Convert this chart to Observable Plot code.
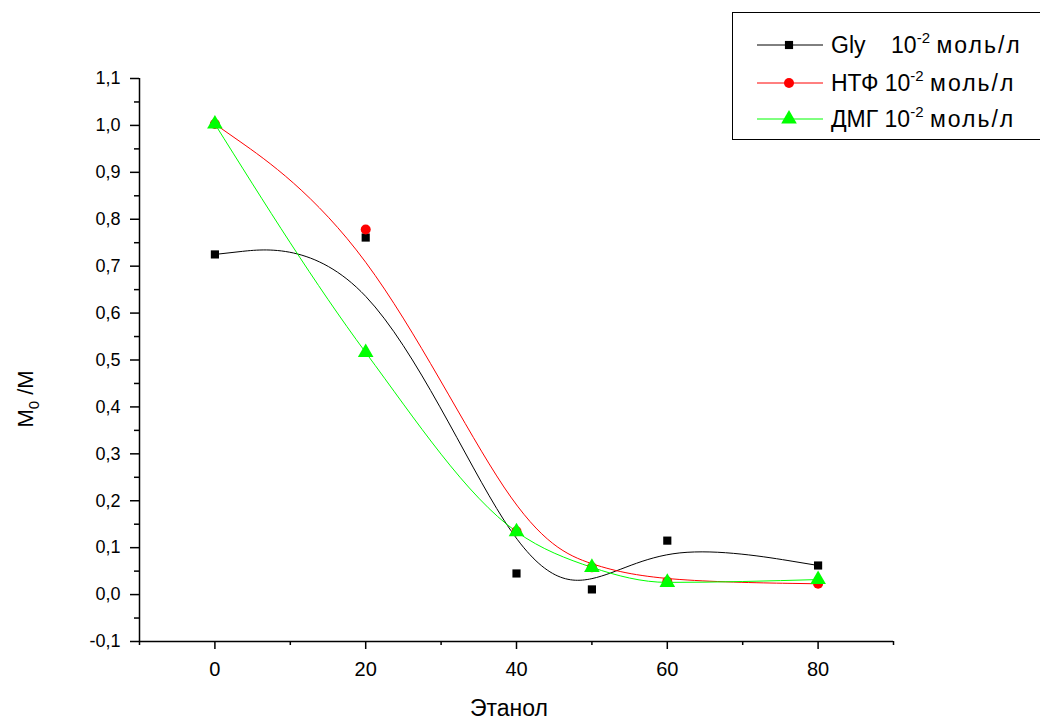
<!DOCTYPE html>
<html>
<head>
<meta charset="utf-8">
<script src="https://cdn.jsdelivr.net/npm/d3@7"></script>
<script src="https://cdn.jsdelivr.net/npm/@observablehq/plot@0.6"></script>
<style>
  html, body { margin: 0; padding: 0; background: #fff; }
  #wrap { position: relative; width: 1040px; height: 722px; overflow: hidden; font-family: "Liberation Sans", Arial, sans-serif; }
  #legend { position: absolute; left: 732px; top: 12px; width: 320px; height: 128px; border: 1px solid #000; background: #fff; box-sizing: border-box; }
  .row { position: absolute; left: 0; height: 30px; display: flex; align-items: center; }
  .row svg { display: block; }
  .lab { font-size: 23px; color: #000; margin-left: 6px; white-space: nowrap; }
  .lab sup { font-size: 15px; vertical-align: 10px; line-height: 0; }
  .unit { letter-spacing: 2px; }
</style>
</head>
<body>
<div id="wrap"></div>
<script>
// Data
const ethanol = [0, 20, 40, 50, 60, 80];
const gly = [0.725, 0.761, 0.045, 0.011, 0.115, 0.062];
const ntf = [1.003, 0.778, 0.135, 0.058, 0.028, 0.023];
const dmg = [1.003, 0.516, 0.134, 0.058, 0.026, 0.032];
const seriesNames = ["Gly", "НТФ", "ДМГ"];
const seriesColors = ["#000000", "#ff0000", "#00ff00"];
const xTicks = [0, 20, 40, 60, 80];
const xMinor = [-10, 10, 30, 50, 70, 90];
const yTicks = [-0.1, 0, 0.1, 0.2, 0.3, 0.4, 0.5, 0.6, 0.7, 0.8, 0.9, 1.0, 1.1];
const yMinor = [-0.05, 0.05, 0.15, 0.25, 0.35, 0.45, 0.55, 0.65, 0.75, 0.85, 0.95, 1.05];

const mk = (ys) => ethanol.map((x, i) => ({x, y: ys[i]}));
const dGly = mk(gly), dNtf = mk(ntf), dDmg = mk(dmg);

const fmt = v => v.toFixed(1).replace(".", ",");

const chart = Plot.plot({
  width: 1040,
  height: 722,
  marginLeft: 139,
  marginRight: 147,
  marginTop: 78,
  marginBottom: 81,
  style: { fontFamily: "'Liberation Sans', Arial, sans-serif", fontSize: "17px", color: "#000", background: "#fff" },
  x: { domain: [-10, 90] },
  y: { domain: [-0.1, 1.1] },
  marks: [
    Plot.axisX({ ticks: xTicks, tickSize: 8, tickPadding: 12, tickFormat: d => String(d), label: null, fontSize: 20, strokeWidth: 1.5 }),
    Plot.axisX({ ticks: xMinor, tickSize: 4, text: null, label: null, strokeWidth: 1.5 }),
    Plot.axisY({ ticks: yTicks, tickSize: 9, tickPadding: 10, tickFormat: fmt, label: null, fontSize: 18, strokeWidth: 1.5 }),
    Plot.axisY({ ticks: yMinor, tickSize: 5, text: null, label: null, strokeWidth: 1.5 }),
    Plot.ruleY([-0.1], { stroke: "#000", strokeWidth: 1.5 }),
    Plot.ruleX([-10], { stroke: "#000", strokeWidth: 1.5 }),
    Plot.line(dGly, { x: "x", y: "y", curve: "basis", stroke: seriesColors[0], strokeWidth: 1 }),
    Plot.line(dNtf, { x: "x", y: "y", curve: "basis", stroke: seriesColors[1], strokeWidth: 1 }),
    Plot.line(dDmg, { x: "x", y: "y", curve: "monotone-x", stroke: seriesColors[2], strokeWidth: 1 }),
    Plot.dot(dGly, { x: "x", y: "y", symbol: "square", r: 4.6, fill: seriesColors[0], stroke: null }),
    Plot.dot(dNtf, { x: "x", y: "y", symbol: "circle", r: 5, fill: seriesColors[1], stroke: null }),
    Plot.dot(dDmg, { x: "x", y: "y", symbol: "triangle", r: 5.8, fill: seriesColors[2], stroke: null })
  ]
});

const wrap = document.getElementById("wrap");
wrap.appendChild(chart);

// Axis titles
const svg = d3.select(chart);
svg.append("text")
  .attr("x", 509).attr("y", 716)
  .attr("text-anchor", "middle")
  .attr("font-size", 23)
  .attr("fill", "#000")
  .text("Этанол");
const yt = svg.append("text")
  .attr("transform", "translate(33,399) rotate(-90)")
  .attr("text-anchor", "middle")
  .attr("font-size", 22)
  .attr("fill", "#000");
yt.append("tspan").text("M");
yt.append("tspan").attr("font-size", 15).attr("dy", 6).text("0");
yt.append("tspan").attr("dy", -6).text(" /M");

// Legend
const legend = document.createElement("div");
legend.id = "legend";
const rowsY = [17, 55, 91];
const symbols = ["square", "circle", "triangle"];
const spacers = ["\u00a0\u00a0\u00a0\u00a0", " ", " "];
seriesNames.forEach((name, i) => {
  const row = document.createElement("div");
  row.className = "row";
  row.style.top = rowsY[i] + "px";
  const s = d3.create("svg").attr("width", 92).attr("height", 30);
  s.append("line").attr("x1", 24).attr("x2", 90).attr("y1", 15).attr("y2", 15).attr("stroke", seriesColors[i]).attr("stroke-width", 1);
  const rr = [4.6, 5, 5.8][i];
  const sym = { square: d3.symbolSquare, circle: d3.symbolCircle, triangle: d3.symbolTriangle }[symbols[i]];
  s.append("path").attr("d", d3.symbol(sym, rr * rr * Math.PI)()).attr("transform", "translate(56,15)").attr("fill", seriesColors[i]);
  row.appendChild(s.node());
  const lab = document.createElement("span");
  lab.className = "lab";
  lab.innerHTML = name + spacers[i] + "10<sup>-2</sup> <span class=\"unit\">моль/л</span>";
  row.appendChild(lab);
  legend.appendChild(row);
});
wrap.appendChild(legend);
</script>
</body>
</html>
